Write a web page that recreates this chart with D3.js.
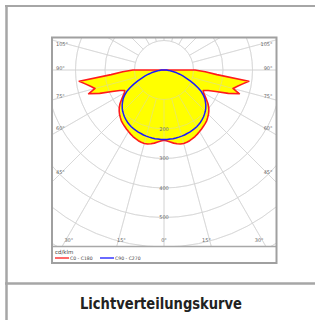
<!DOCTYPE html>
<html>
<head>
<meta charset="utf-8">
<script src="https://cdn.jsdelivr.net/npm/d3@7"></script>
<style>
  html, body { margin: 0; padding: 0; background: #fff; }
  svg { display: block; }
</style>
</head>
<body>
<div id="container"></div>
<script>
// Ángulos gamma (grados) y las intensidades (cd/klm)
const gammas = [0, 2.5, 5, 7.5, 10, 12.5, 15, 17.5, 20, 22.5, 25, 27.5, 30, 32.5, 35, 37.5,
                40, 42.5, 45, 47.5, 50, 52.5, 55, 57.5, 60, 62.5, 65, 67.5, 70, 72.5, 75,
                77.5, 80, 82.5, 85, 87.5, 90, 92.5, 95];
const c0c180 = [238, 241, 245, 250, 254, 257, 258, 257, 255, 252, 249, 245, 241, 237, 233, 229,
                225, 219, 213, 206, 198, 188, 176, 165, 155, 150, 165, 190, 232, 268, 242,
                255, 271, 290, 180, 140, 105, 3, 0];
const c90c270 = [236, 236, 235, 235, 234, 233, 232, 231, 229, 228, 226, 224, 222, 219, 216, 212,
                 208, 203, 198, 192, 185, 177, 169, 158, 146, 130, 113, 96, 80, 67, 55,
                 44, 33, 24, 15, 9, 4, 1, 0];

const ringValues = [100, 200, 300, 400, 500, 600, 700, 800];
const ringLabels = [200, 300, 400, 500];
const spokeAngles = d3.range(0, 360, 15);
const sideLabels = [105, 90, 75, 60, 45];
const bottomLabels = [30, 15, 0, 15, 30];
const bottomSigns = [-1, -1, 0, 1, 1];
const seriesNames = ['C0 - C180', 'C90 - C270'];
const seriesColors = ['#ff1a1a', '#1a1aff'];
const unit = 'cd/klm';
const title = 'Lichtverteilungskurve';

const WIDTH = 315, HEIGHT = 320;
const BOX = { LEFT: 52, TOP: 37.5, RIGHT: 276.5, BOTTOM: 246.5, LEGEND: 263 };
const CX = 164, CY = 70;

const svg = d3.select('#container')
              .append('svg')
                .attr('width', WIDTH)
                .attr('height', HEIGHT);

// marco exterior de la ficha
svg.append('line').attr('x1', 6.5).attr('x2', 6.5).attr('y1', 5).attr('y2', HEIGHT)
   .attr('stroke', '#a6a6a6').attr('stroke-width', 2.5);
svg.append('line').attr('x1', 5).attr('x2', WIDTH).attr('y1', 6).attr('y2', 6)
   .attr('stroke', '#a6a6a6').attr('stroke-width', 2);
svg.append('line').attr('x1', 5).attr('x2', WIDTH).attr('y1', 283.5).attr('y2', 283.5)
   .attr('stroke', '#a6a6a6').attr('stroke-width', 2.5);

svg.append('text')
   .attr('x', 161).attr('y', 309)
   .attr('text-anchor', 'middle')
   .attr('font-family', '"Liberation Sans Narrow", "DejaVu Sans Condensed", "Liberation Sans", sans-serif')
   .attr('font-weight', 'bold')
   .attr('font-size', 16.5)
   .attr('textLength', 162)
   .attr('lengthAdjust', 'spacingAndGlyphs')
   .attr('fill', '#222')
   .text(title);

// recuadro del diagrama
svg.append('rect')
   .attr('x', BOX.LEFT).attr('y', BOX.TOP)
   .attr('width', BOX.RIGHT - BOX.LEFT).attr('height', BOX.LEGEND - BOX.TOP)
   .attr('fill', '#fff');

svg.append('clipPath').attr('id', 'plot-clip')
   .append('rect')
     .attr('x', BOX.LEFT).attr('y', BOX.TOP)
     .attr('width', BOX.RIGHT - BOX.LEFT).attr('height', BOX.BOTTOM - BOX.TOP);

const r = d3.scaleLinear().domain([0, 100]).range([0, 29.5]);
const rad = d => d * Math.PI / 180;

const plot = svg.append('g').attr('clip-path', 'url(#plot-clip)');
const polar = plot.append('g').attr('transform', `translate(${CX},${CY})`);

// Rejilla dibujada primero (se ve sobre blanco)
function drawGrid(g, color, opacity) {
  g.selectAll('circle.ring')
   .data(ringValues)
   .enter().append('circle')
     .attr('class', 'ring')
     .attr('r', d => r(d))
     .attr('fill', 'none')
     .attr('stroke', color)
     .attr('stroke-opacity', opacity)
     .attr('stroke-width', 0.9);
  g.selectAll('line.spoke')
   .data(spokeAngles)
   .enter().append('line')
     .attr('class', 'spoke')
     .attr('x1', d => r(100) * Math.sin(rad(d)))
     .attr('y1', d => r(100) * Math.cos(rad(d)))
     .attr('x2', d => r(900) * Math.sin(rad(d)))
     .attr('y2', d => r(900) * Math.cos(rad(d)))
     .attr('stroke', color)
     .attr('stroke-opacity', opacity)
     .attr('stroke-width', 0.9);
}
drawGrid(polar.append('g'), '#dcdcdc', 1);

// curva cerrada: lado C0 (derecha) y lado C180 (izquierda, espejo)
function closedCurve(values) {
  const right = gammas.map((g, i) => [Math.PI - rad(g), r(values[i])]);
  const left = gammas.map((g, i) => [Math.PI + rad(g), r(values[i])]).reverse();
  return d3.lineRadial().curve(d3.curveLinearClosed)(right.concat(left));
}

polar.append('path')
     .attr('d', closedCurve(c0c180))
     .attr('fill', '#ffff00')
     .attr('stroke', 'none');

// rejilla tenue por encima del relleno
drawGrid(polar.append('g'), '#d0d0d0', 0.5);

polar.append('path')
     .attr('d', closedCurve(c0c180))
     .attr('fill', 'none')
     .attr('stroke', seriesColors[0])
     .attr('stroke-width', 1.6)
     .attr('stroke-linejoin', 'round');

polar.append('path')
     .attr('d', closedCurve(c90c270))
     .attr('fill', 'none')
     .attr('stroke', seriesColors[1])
     .attr('stroke-width', 1.5)
     .attr('stroke-linejoin', 'round');

// etiquetas de los anillos
const labelFont = '"DejaVu Sans", sans-serif';
polar.selectAll('text.ring-label')
     .data(ringLabels)
     .enter().append('text')
       .attr('x', 0)
       .attr('y', d => r(d))
       .attr('dy', '0.35em')
       .attr('text-anchor', 'middle')
       .attr('font-family', labelFont)
       .attr('font-size', 5)
       .attr('fill', '#666')
       .text(d => d);

// etiquetas de ángulos en los costados
const sideX = 60;
[-1, 1].forEach(side => {
  svg.selectAll(null)
     .data(sideLabels)
     .enter().append('text')
       .attr('x', side < 0 ? BOX.LEFT + 4 : BOX.RIGHT - 4)
       .attr('y', d => Math.max(44.5, CY + (CX - sideX) / Math.tan(rad(d)) - 1.5))
       .attr('dy', '0.35em')
       .attr('text-anchor', side < 0 ? 'start' : 'end')
       .attr('font-family', labelFont)
       .attr('font-size', 5)
       .attr('fill', '#666')
       .text(d => `${d}°`);
});

const bottomY = 240;
svg.selectAll('text.bottom-label')
   .data(bottomLabels)
   .enter().append('text')
     .attr('class', 'bottom-label')
     .attr('x', (d, i) => CX + bottomSigns[i] * ((bottomY - CY) * Math.tan(rad(d)) - 3))
     .attr('y', bottomY)
     .attr('dy', '0.35em')
     .attr('text-anchor', 'middle')
     .attr('font-family', labelFont)
     .attr('font-size', 5)
     .attr('fill', '#666')
     .text(d => `${d}°`);

// leyenda
svg.append('line')
   .attr('x1', BOX.LEFT).attr('x2', BOX.RIGHT)
   .attr('y1', BOX.BOTTOM).attr('y2', BOX.BOTTOM)
   .attr('stroke', '#a8a8a8').attr('stroke-width', 1.5);

svg.append('text')
   .attr('x', 55).attr('y', 253.5)
   .attr('font-family', labelFont)
   .attr('font-size', 5.5)
   .attr('fill', '#444')
   .text(unit);

const legendX = d3.scaleOrdinal().domain(seriesNames).range([55, 100]);
const legend = svg.selectAll('g.legend-item')
                  .data(seriesNames)
                  .enter().append('g')
                    .attr('class', 'legend-item')
                    .attr('transform', d => `translate(${legendX(d)},258)`);
legend.append('line')
      .attr('x1', 0).attr('x2', 14)
      .attr('stroke', (d, i) => seriesColors[i])
      .attr('stroke-width', 1.3);
legend.append('text')
      .attr('x', 15).attr('dy', '0.35em')
      .attr('font-family', labelFont)
      .attr('font-size', 4.6)
      .attr('fill', '#444')
      .text(d => d);

// borde del recuadro encima de todo
svg.append('rect')
   .attr('x', BOX.LEFT).attr('y', BOX.TOP)
   .attr('width', BOX.RIGHT - BOX.LEFT).attr('height', BOX.LEGEND - BOX.TOP)
   .attr('fill', 'none')
   .attr('stroke', '#a0a0a0')
   .attr('stroke-width', 2);
</script>
</body>
</html>
